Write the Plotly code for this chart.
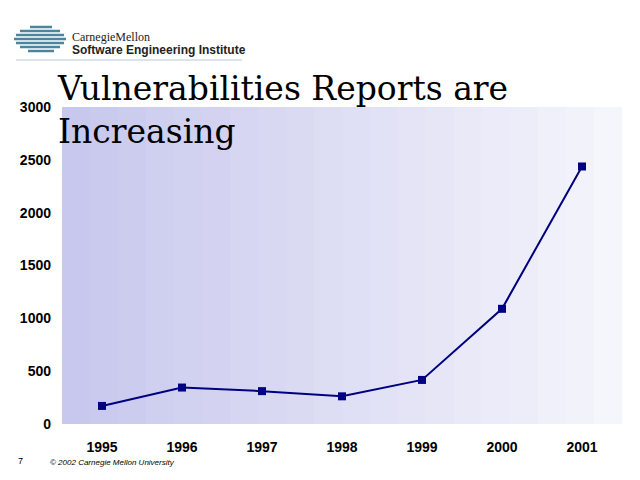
import plotly.graph_objects as go

years = ["1995", "1996", "1997", "1998", "1999", "2000", "2001"]
reports = [171, 345, 311, 262, 417, 1090, 2437]
yticks = [0, 500, 1000, 1500, 2000, 2500, 3000]

fig = go.Figure(go.Scatter(x=years, y=reports, mode="lines+markers",
    line=dict(color="#000080", width=2),
    marker=dict(symbol="square", size=8, color="#000080")))

def px(x): return (x - 62) / 560
def py(y): return (424 - y) / 317

shapes = []
n = 20
for i in range(n):
    t = i / (n - 1)
    r = int(200 + 45 * t); g = int(200 + 45 * t); b = int(238 + 14 * t)
    shapes.append(dict(type="rect", xref="paper", yref="paper", x0=i / n, x1=(i + 1) / n,
                       y0=0, y1=1, fillcolor=f"rgb({r},{g},{b})", line_width=0, layer="below"))
for (y, x0, x1) in [(27, 30, 52), (31, 20, 60), (35, 16, 64), (39, 14, 66),
                    (43, 16, 64), (47, 20, 60), (51, 28, 54)]:
    shapes.append(dict(type="line", xref="paper", yref="paper", x0=px(x0), x1=px(x1),
                       y0=py(y), y1=py(y), line=dict(color="#4a86a0", width=2.5)))
shapes.append(dict(type="line", xref="paper", yref="paper", x0=px(16), x1=px(242),
                   y0=py(60), y1=py(60), line=dict(color="#b8c8d8", width=1)))

anns = [
    dict(text="CarnegieMellon", x=px(70), y=py(37), font=dict(family="Liberation Serif", size=12, color="#222")),
    dict(text="<b>Software Engineering Institute</b>", x=px(70), y=py(50), font=dict(family="Liberation Sans", size=12, color="#222")),
    dict(text="Vulnerabilities Reports are<br>Increasing", x=px(55), y=py(110),
         font=dict(family="DejaVu Serif", size=33, color="#000")),
    dict(text="7", x=px(16), y=py(461), font=dict(family="Liberation Sans", size=9, color="#000")),
    dict(text="<i>© 2002 Carnegie Mellon University</i>", x=px(48), y=py(463),
         font=dict(family="Liberation Sans", size=8, color="#000")),
]
for a in anns:
    a.update(xref="paper", yref="paper", xanchor="left", yanchor="middle", showarrow=False, align="left")

fig.update_layout(
    width=632, height=472, margin=dict(l=54, r=18, t=99, b=56),
    paper_bgcolor="white", plot_bgcolor="white", showlegend=False,
    shapes=shapes, annotations=anns,
    xaxis=dict(type="category", range=[-0.5, 6.5], showgrid=False, showline=False, ticks="",
               tickvals=years, ticktext=[f"<b>{y}</b>" for y in years],
               tickfont=dict(family="Liberation Sans", size=14, color="#000"), ticklabelstandoff=13),
    yaxis=dict(range=[0, 3000], tickvals=yticks, ticktext=[f"<b>{v}</b>" for v in yticks],
               showgrid=False, zeroline=False, ticks="",
               tickfont=dict(family="Liberation Sans", size=14, color="#000"), ticklabelstandoff=10),
)
fig.write_html("out.html")
